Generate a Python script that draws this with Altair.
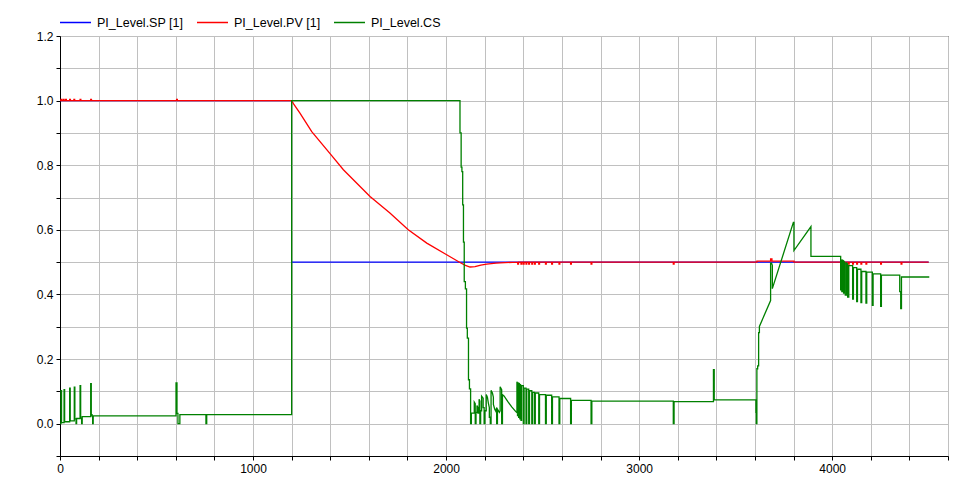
import pandas as pd
import altair as alt

# legend names and line colours
names = ['PI_Level.SP [1]', 'PI_Level.PV [1]', 'PI_Level.CS']
colors = ['#0000ff', '#ff0000', '#008000']

# setpoint (time, value); None breaks the line at the step
sp_pts = [(0, 1.0), (1200, 1.0), (1200, None), (1200, 0.5), (4500, 0.5)]

# process value (time, value)
pv_pts = [
    (0, 1.0),
    (5, 1.0), (5, 1.004), (9, 1.004), (9, 1.0),
    (17, 1.0), (17, 1.004), (21, 1.004), (21, 1.0),
    (29, 1.0), (29, 1.004), (33, 1.004), (33, 1.0),
    (50, 1.0), (50, 1.004), (54, 1.004), (54, 1.0),
    (72, 1.0), (72, 1.004), (76, 1.004), (76, 1.0),
    (104, 1.0), (104, 1.004), (108, 1.004), (108, 1.0),
    (159, 1.0), (159, 1.004), (163, 1.004), (163, 1.0),
    (604, 1.0), (604, 1.004), (608, 1.004), (608, 1.0),
    (1200, 1.0), (1210, 0.99), (1243, 0.961), (1304, 0.904), (1400, 0.835),
    (1468, 0.786), (1606, 0.703), (1709, 0.652), (1804, 0.600), (1900, 0.559),
    (2003, 0.523), (2072, 0.499), (2100, 0.490), (2124, 0.485), (2150, 0.486),
    (2180, 0.491), (2210, 0.494), (2259, 0.497), (2280, 0.498), (2371, 0.5),
    (2371, 0.494), (2375, 0.494), (2375, 0.5),
    (2388, 0.5), (2388, 0.494), (2392, 0.494), (2392, 0.5),
    (2400, 0.5), (2400, 0.494), (2404, 0.494), (2404, 0.5),
    (2414, 0.5), (2414, 0.494), (2418, 0.494), (2418, 0.5),
    (2428, 0.5), (2428, 0.494), (2432, 0.494), (2432, 0.5),
    (2444, 0.5), (2444, 0.494), (2448, 0.494), (2448, 0.5),
    (2458, 0.5), (2458, 0.494), (2462, 0.494), (2462, 0.5),
    (2480, 0.5), (2480, 0.494), (2484, 0.494), (2484, 0.5),
    (2515, 0.5), (2515, 0.494), (2519, 0.494), (2519, 0.5),
    (2547, 0.5), (2547, 0.494), (2551, 0.494), (2551, 0.5),
    (2585, 0.5), (2585, 0.494), (2589, 0.494), (2589, 0.5),
    (2645, 0.5), (2645, 0.494), (2649, 0.494), (2649, 0.5),
    (2751, 0.5), (2751, 0.494), (2755, 0.494), (2755, 0.5),
    (3177, 0.5), (3177, 0.494), (3181, 0.494), (3181, 0.5),
    (3610, 0.5), (3610, 0.503), (3681, 0.503), (3681, 0.51), (3688, 0.51),
    (3688, 0.503), (3802, 0.503), (3802, 0.5),
    (4061, 0.5), (4061, 0.494), (4065, 0.494), (4065, 0.5),
    (4084, 0.5), (4084, 0.494), (4088, 0.494), (4088, 0.5),
    (4106, 0.5), (4106, 0.494), (4110, 0.494), (4110, 0.5),
    (4127, 0.5), (4127, 0.494), (4131, 0.494), (4131, 0.5),
    (4149, 0.5), (4149, 0.494), (4153, 0.494), (4153, 0.5),
    (4175, 0.5), (4175, 0.494), (4179, 0.494), (4179, 0.5),
    (4251, 0.5), (4251, 0.494), (4255, 0.494), (4255, 0.5),
    (4357, 0.5), (4357, 0.494), (4361, 0.494), (4361, 0.5),
    (4500, 0.5),
]

# control signal (time, value)
cs_pts = [
    (0, 0.0), (5, 0.0), (5, 0.102), (8, 0.102), (8, 0.003),
    (21, 0.003), (21, 0.105), (24, 0.105), (24, 0.006),
    (50, 0.006), (50, 0.110), (53, 0.110), (53, 0.009),
    (74, 0.009), (74, 0.113), (77, 0.113), (77, 0.015),
    (83, 0.015), (83, 0.0), (86, 0.0), (86, 0.016),
    (104, 0.016), (104, 0.118), (107, 0.118), (107, 0.017),
    (112, 0.017), (112, 0.0), (115, 0.0), (115, 0.022),
    (159, 0.022), (159, 0.124), (162, 0.124), (162, 0.028), (166, 0.028), (166, 0.024),
    (169, 0.024), (169, 0.0), (172, 0.0), (172, 0.024),
    (601, 0.024), (601, 0.126), (606, 0.126), (606, 0.032), (611, 0.032),
    (611, 0.0), (621, 0.0), (621, 0.028),
    (756, 0.028), (756, 0.0), (760, 0.0), (760, 0.028),
    (1200, 0.028), (1200, 1.0),
    (2072, 1.0), (2072, 0.900), (2078, 0.900), (2078, 0.794), (2082, 0.794), (2082, 0.780),
    (2086, 0.780), (2086, 0.677), (2090, 0.677), (2090, 0.562), (2094, 0.562), (2094, 0.440),
    (2100, 0.440), (2100, 0.417), (2106, 0.417), (2106, 0.296), (2110, 0.296), (2110, 0.265),
    (2116, 0.265), (2116, 0.136), (2121, 0.136), (2121, 0.108), (2127, 0.108), (2127, 0.0),
    (2131, 0.0), (2131, 0.033), (2146, 0.033), (2146, 0.067), (2151, 0.062), (2151, 0.0),
    (2155, 0.0), (2155, 0.035), (2160, 0.035), (2160, 0.056), (2165, 0.050), (2165, 0.033),
    (2171, 0.033), (2171, 0.076), (2175, 0.070), (2175, 0.0), (2179, 0.0), (2179, 0.040),
    (2184, 0.040), (2184, 0.085), (2192, 0.079), (2192, 0.050), (2197, 0.050), (2197, 0.0),
    (2201, 0.0), (2201, 0.040), (2208, 0.040), (2208, 0.090), (2214, 0.082), (2219, 0.064),
    (2224, 0.050), (2224, 0.020), (2229, 0.020), (2229, 0.0), (2233, 0.0), (2233, 0.103),
    (2240, 0.095), (2245, 0.082), (2245, 0.060), (2252, 0.045), (2258, 0.038), (2262, 0.050),
    (2262, 0.0), (2266, 0.0), (2266, 0.045), (2276, 0.035), (2280, 0.040), (2280, 0.114),
    (2288, 0.105), (2288, 0.0), (2292, 0.0), (2292, 0.090), (2300, 0.086), (2320, 0.068),
    (2340, 0.052), (2360, 0.038), (2367, 0.034),
    (2367, 0.130), (2370, 0.125), (2370, 0.025), (2373, 0.025), (2373, 0.128), (2376, 0.122),
    (2376, 0.020), (2379, 0.020), (2379, 0.126), (2382, 0.120), (2382, 0.015), (2385, 0.015),
    (2385, 0.122), (2388, 0.118), (2388, 0.010), (2391, 0.010), (2391, 0.118),
    (2400, 0.118), (2400, 0.0), (2404, 0.0), (2404, 0.110),
    (2414, 0.110), (2414, 0.0), (2418, 0.0), (2418, 0.107),
    (2428, 0.107), (2428, 0.0), (2432, 0.0), (2432, 0.102),
    (2444, 0.102), (2444, 0.0), (2448, 0.0), (2448, 0.097),
    (2458, 0.097), (2458, 0.0), (2462, 0.0), (2462, 0.095),
    (2480, 0.095), (2480, 0.0), (2484, 0.0), (2484, 0.090),
    (2515, 0.090), (2515, 0.0), (2519, 0.0), (2519, 0.088),
    (2547, 0.088), (2547, 0.0), (2551, 0.0), (2551, 0.083),
    (2585, 0.083), (2585, 0.0), (2589, 0.0), (2589, 0.078),
    (2645, 0.078), (2645, 0.0), (2649, 0.0), (2649, 0.072),
    (2751, 0.072), (2751, 0.0), (2755, 0.0), (2755, 0.070),
    (3177, 0.070), (3177, 0.0), (3181, 0.0), (3181, 0.068),
    (3385, 0.068), (3385, 0.167), (3389, 0.167), (3389, 0.074),
    (3605, 0.074), (3605, 0.035), (3607, 0.035), (3607, 0.0), (3610, 0.0), (3610, 0.170),
    (3614, 0.170), (3614, 0.179), (3619, 0.179), (3619, 0.282), (3623, 0.282), (3623, 0.301),
    (3681, 0.381), (3681, 0.497), (3686, 0.497), (3690, 0.490), (3690, 0.418),
    (3799, 0.623), (3802, 0.623), (3802, 0.536), (3890, 0.610), (3890, 0.518),
    (4044, 0.518), (4044, 0.414), (4047, 0.414), (4047, 0.507), (4050, 0.505), (4050, 0.409),
    (4056, 0.409), (4056, 0.505), (4059, 0.503), (4059, 0.404), (4063, 0.404), (4063, 0.501),
    (4068, 0.497), (4068, 0.398), (4075, 0.398), (4075, 0.497), (4080, 0.495), (4080, 0.392),
    (4086, 0.392), (4086, 0.489),
    (4106, 0.489), (4106, 0.386), (4110, 0.386), (4110, 0.483),
    (4127, 0.483), (4127, 0.378), (4131, 0.378), (4131, 0.478),
    (4149, 0.478), (4149, 0.375), (4153, 0.375), (4153, 0.471),
    (4175, 0.471), (4175, 0.373), (4179, 0.373), (4179, 0.469),
    (4208, 0.469), (4208, 0.366), (4212, 0.366), (4212, 0.464),
    (4251, 0.464), (4251, 0.363), (4255, 0.363), (4255, 0.460),
    (4350, 0.460), (4350, 0.409), (4355, 0.409), (4355, 0.356), (4359, 0.356), (4359, 0.454),
    (4503, 0.454),
]

# tick / grid positions
x_ticks = [0, 200, 400, 600, 800, 1000, 1200, 1400, 1600, 1800, 2000, 2200, 2400,
           2600, 2800, 3000, 3200, 3400, 3600, 3800, 4000, 4200, 4400, 4600]
y_ticks = [-0.1, 0.0, 0.1, 0.2, 0.3, 0.4, 0.5, 0.6, 0.7, 0.8, 0.9, 1.0, 1.1, 1.2]

rows = []
for name, pts in zip(names, [sp_pts, pv_pts, cs_pts]):
    for i, (t, v) in enumerate(pts):
        rows.append({'series': name, 'time': t, 'value': v, 'i': i})
df = pd.DataFrame(rows)

font = 'Liberation Sans'

base = alt.Chart(df).mark_line(strokeWidth=1.3, interpolate='linear').encode(
    x=alt.X('time:Q',
            scale=alt.Scale(domain=[0, 4600], nice=False, zero=False),
            axis=alt.Axis(values=x_ticks, title=None, labelFlush=False,
                          labelExpr="datum.value % 1000 == 0 ? format(datum.value, 'd') : ''")),
    y=alt.Y('value:Q',
            scale=alt.Scale(domain=[-0.1, 1.2], nice=False, zero=False),
            axis=alt.Axis(values=y_ticks, title=None, labelFlush=False,
                          labelExpr="round(datum.value * 10) % 2 == 0 ? format(datum.value, '.1f') : ''")),
    color=alt.Color('series:N',
                    scale=alt.Scale(domain=names, range=colors),
                    legend=alt.Legend(title=None, orient='none', direction='horizontal',
                                      legendX=-1, legendY=-30,
                                      symbolType='stroke', symbolSize=961,
                                      symbolStrokeWidth=1.5, labelOffset=5,
                                      columnPadding=10, labelFont=font,
                                      labelFontSize=12.5, labelColor='black')),
    order='i:Q'
)

chart = alt.layer(
    *[base.transform_filter(alt.datum.series == n) for n in names]
).properties(
    width=888,
    height=420,
    padding={'left': 52, 'top': 28, 'right': 10, 'bottom': 24},
    autosize=alt.AutoSizeParams(type='none')
).configure_view(
    stroke='black', strokeWidth=1
).configure_axis(
    domainColor='black', tickColor='black', tickSize=4, labelPadding=3,
    gridColor='#c0c0c0', gridWidth=1, labelFont=font, labelFontSize=12,
    labelColor='black', labelOverlap=False
)

chart.save("out.html", embed_options={"renderer": "svg", "actions": False})
